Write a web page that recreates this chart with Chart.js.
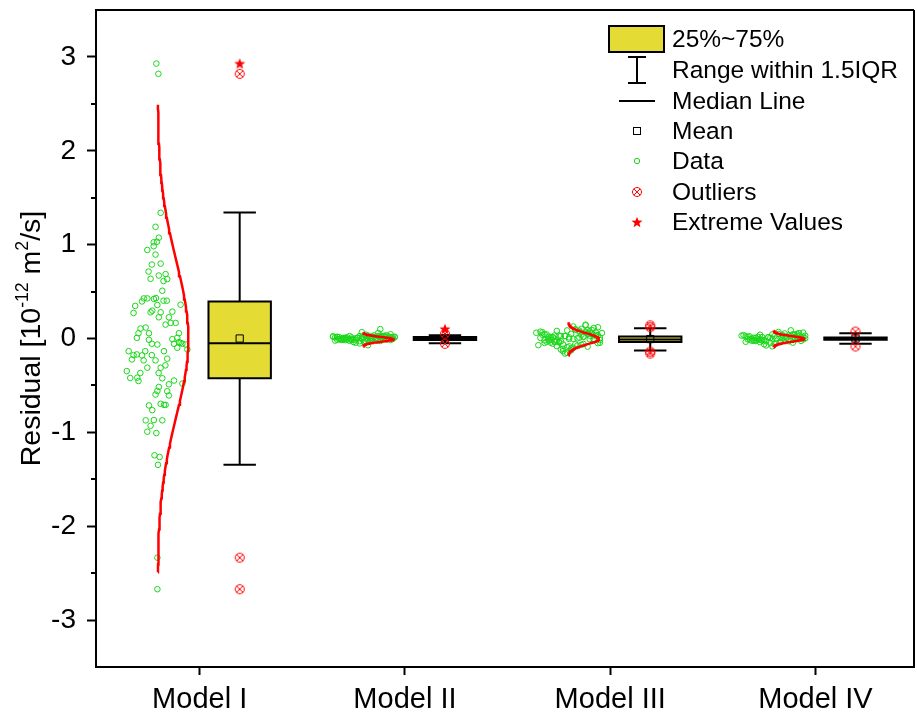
<!DOCTYPE html>
<html>
<head>
<meta charset="utf-8">
<script src="https://cdn.jsdelivr.net/npm/chart.js@4.4.1/dist/chart.umd.min.js"></script>
<style>
  html, body { margin: 0; padding: 0; background: #ffffff; }
  #wrap { width: 917px; height: 721px; }
</style>
</head>
<body>
<div id="wrap"><canvas id="chart" width="917" height="721"></canvas></div>
<script>
// ---- data ----
const categories = ['Model I', 'Model II', 'Model III', 'Model IV'];
const yTicks = [-3, -2, -1, 0, 1, 2, 3];

// residuals per model, with horizontal scatter offsets for the point cloud
const m1Values = [2.929,2.820,1.339,1.190,1.074,1.031,1.025,0.983,0.943,0.894,
  0.798,0.788,0.713,0.636,0.671,0.686,0.633,0.612,0.509,0.427,
  0.427,0.395,0.421,0.431,0.357,0.403,0.403,0.360,0.347,0.272,
  0.279,0.297,0.279,0.286,0.226,0.226,0.106,0.117,0.056,0.056,
  0.148,0.166,0.166,0.056,0.007,-0.014,-0.007,0.007,-0.056,-0.064,
  -0.056,-0.039,-0.046,-0.099,-0.056,-0.064,-0.117,-0.135,-0.177,-0.223,
  -0.170,-0.180,-0.135,-0.233,-0.177,-0.233,-0.135,-0.215,-0.286,-0.311,
  -0.347,-0.421,-0.417,-0.453,-0.368,-0.368,-0.311,-0.424,-0.448,-0.488,
  -0.480,-0.516,-0.559,-0.597,-0.562,-0.607,-0.713,-0.763,-0.696,-0.707,
  -0.707,-0.872,-0.869,-0.872,-0.930,-0.993,-1.007,-1.244,-1.262,-1.346,
  -2.335,-2.671];
const m1Jitter = [-0.211,-0.201,-0.190,-0.215,-0.199,-0.208,-0.224,-0.224,-0.255,-0.215,
  -0.190,-0.233,-0.249,-0.239,-0.199,-0.166,-0.158,-0.176,-0.182,-0.272,
  -0.255,-0.281,-0.223,-0.213,-0.206,-0.176,-0.160,-0.093,-0.314,-0.322,
  -0.239,-0.231,-0.190,-0.133,-0.199,-0.150,-0.288,-0.263,-0.298,-0.247,
  -0.166,-0.141,-0.117,-0.101,-0.306,-0.247,-0.133,-0.109,-0.233,-0.206,
  -0.125,-0.101,-0.093,-0.109,-0.084,-0.068,-0.060,-0.346,-0.322,-0.330,
  -0.306,-0.281,-0.265,-0.273,-0.233,-0.215,-0.174,-0.158,-0.167,-0.255,
  -0.355,-0.338,-0.304,-0.298,-0.289,-0.200,-0.190,-0.182,-0.125,-0.150,
  -0.084,-0.199,-0.206,-0.215,-0.158,-0.150,-0.247,-0.231,-0.190,-0.174,
  -0.166,-0.263,-0.223,-0.182,-0.239,-0.255,-0.211,-0.220,-0.195,-0.203,
  -0.206,-0.206];

const m2Values = [0.004,-0.012,0.018,-0.025,0.009,0.031,-0.006,0.014,-0.019,0.002,
  0.022,-0.031,0.011,-0.003,0.027,-0.015,0.006,0.035,-0.009,0.016,
  -0.022,0.001,0.012,-0.038,0.024,-0.007,0.008,0.029,-0.017,0.003,
  0.019,-0.011,0.041,-0.027,0.013,-0.002,0.021,-0.014,0.007,-0.045,
  0.026,0.010,-0.020,0.015,-0.005,0.033,-0.029,0.005,0.017,-0.010,
  0.000,0.023,-0.016,0.058,-0.034,0.011,-0.004,0.020,-0.024,0.008,
  0.030,-0.013,0.014,-0.001,0.046,-0.019,0.006,-0.052,0.025,-0.008,
  0.100,0.013,-0.026,0.002,0.018,-0.012,0.067,0.009,-0.071,0.016];
const m2Jitter = [-0.21,-0.33,-0.12,-0.27,-0.08,-0.18,-0.30,-0.15,-0.24,-0.06,
  -0.35,-0.19,-0.26,-0.11,-0.22,-0.31,-0.14,-0.09,-0.28,-0.20,
  -0.34,-0.17,-0.07,-0.25,-0.13,-0.32,-0.23,-0.10,-0.29,-0.16,
  -0.05,-0.26,-0.19,-0.12,-0.34,-0.21,-0.08,-0.30,-0.14,-0.24,
  -0.27,-0.11,-0.18,-0.33,-0.06,-0.15,-0.22,-0.29,-0.10,-0.25,
  -0.31,-0.16,-0.07,-0.13,-0.20,-0.28,-0.09,-0.35,-0.17,-0.23,
  -0.12,-0.26,-0.32,-0.19,-0.07,-0.14,-0.30,-0.22,-0.11,-0.27,
  -0.12,-0.05,-0.16,-0.24,-0.33,-0.09,-0.21,-0.29,-0.18,-0.06];

const m3Values = [0.012,-0.034,0.057,-0.081,0.023,0.094,-0.015,0.041,-0.062,0.005,
  0.073,-0.098,0.031,-0.007,0.086,-0.047,0.018,0.112,-0.029,0.049,
  -0.071,0.002,0.035,-0.118,0.067,-0.022,0.027,0.091,-0.055,0.009,
  0.059,-0.038,0.128,-0.087,0.039,-0.004,0.064,-0.044,0.021,-0.135,
  0.081,0.030,-0.061,0.046,-0.017,0.103,-0.093,0.014,0.052,-0.031,
  -0.001,0.070,-0.050,0.147,-0.106,0.033,-0.012,0.061,-0.075,0.025,
  0.089,-0.040,0.043,-0.003,0.120,-0.058,0.017,-0.152,0.077,-0.025,
  0.006,-0.067,0.038,-0.109,0.098,-0.019,0.054,-0.084,0.011,0.140,
  -0.045,0.028,-0.126,0.066,-0.009,0.083,-0.036,0.047,-0.160,0.019];
const m3Jitter = [-0.20,-0.31,-0.11,-0.26,-0.07,-0.17,-0.29,-0.14,-0.23,-0.05,
  -0.34,-0.18,-0.25,-0.10,-0.21,-0.32,-0.13,-0.08,-0.27,-0.19,
  -0.35,-0.16,-0.06,-0.24,-0.12,-0.30,-0.22,-0.09,-0.28,-0.15,
  -0.04,-0.25,-0.18,-0.11,-0.33,-0.20,-0.07,-0.29,-0.13,-0.23,
  -0.26,-0.10,-0.17,-0.32,-0.05,-0.14,-0.21,-0.28,-0.09,-0.24,
  -0.30,-0.15,-0.06,-0.12,-0.19,-0.27,-0.08,-0.36,-0.16,-0.22,
  -0.11,-0.25,-0.31,-0.18,-0.06,-0.13,-0.29,-0.21,-0.10,-0.26,
  -0.34,-0.14,-0.07,-0.23,-0.17,-0.32,-0.09,-0.20,-0.28,-0.12,
  -0.05,-0.24,-0.19,-0.33,-0.08,-0.15,-0.27,-0.11,-0.22,-0.30];

const m4Values = [0.006,-0.017,0.028,-0.039,0.011,0.047,-0.008,0.021,-0.030,0.002,
  0.036,-0.052,0.015,-0.004,0.043,-0.024,0.009,0.058,-0.013,0.025,
  -0.035,0.001,0.018,-0.061,0.033,-0.011,0.013,0.050,-0.027,0.004,
  0.030,-0.019,0.069,-0.044,0.020,-0.002,0.032,-0.022,0.010,-0.074,
  0.040,0.015,-0.031,0.023,-0.009,0.054,-0.048,0.007,0.026,-0.016,
  0.000,0.035,-0.025,0.087,-0.057,0.017,-0.006,0.031,-0.038,0.012,
  0.045,-0.020,0.022,-0.001,0.063,-0.029,0.008,-0.083,0.039,-0.012];
const m4Jitter = [-0.22,-0.30,-0.12,-0.27,-0.07,-0.18,-0.33,-0.15,-0.24,-0.05,
  -0.35,-0.19,-0.26,-0.10,-0.21,-0.31,-0.14,-0.08,-0.28,-0.20,
  -0.34,-0.16,-0.06,-0.25,-0.13,-0.32,-0.23,-0.09,-0.29,-0.17,
  -0.05,-0.26,-0.18,-0.11,-0.33,-0.21,-0.08,-0.30,-0.14,-0.24,
  -0.27,-0.10,-0.17,-0.34,-0.06,-0.15,-0.22,-0.29,-0.09,-0.25,
  -0.31,-0.16,-0.07,-0.12,-0.20,-0.28,-0.09,-0.36,-0.17,-0.23,
  -0.11,-0.26,-0.32,-0.19,-0.06,-0.13,-0.30,-0.21,-0.10,-0.27];

// box statistics
const q1 = [-0.424, -0.016, -0.038, -0.014];
const q3 = [0.395, 0.016, 0.020, 0.010];
const medians = [-0.050, 0.000, -0.010, -0.002];
const means = [0.000, 0.002, -0.006, 0.000];
const whiskerLow = [-1.346, -0.050, -0.127, -0.056];
const whiskerHigh = [1.343, 0.035, 0.110, 0.057];
const outliers = [[2.82, -2.335, -2.671], [0.050, -0.056], [0.140, 0.120, -0.140, -0.160], [0.074, -0.085]];
const extremes = [[2.93], [0.103], [], []];

// normal fit to each model's residuals
const fitMean = [0.000, -0.009, -0.004, -0.004];
const fitSD = [0.83, 0.025, 0.059, 0.0295];

const modelValues = [m1Values, m2Values, m3Values, m4Values];
const modelJitter = [m1Jitter, m2Jitter, m3Jitter, m4Jitter];

// ---- styling / geometry (category units on the x scale) ----
const FONT = '"Liberation Sans", Arial, sans-serif';
const KEY_FS = 24.5;
const XTICK_FS = 29;
const YTICK_FS = 28;
const TITLE_FS = 28.5;
const GREEN = 'rgb(25,215,25)';
const RED = '#ff0000';
const YELLOW = '#e4dc34';
const BOX_OFFSET = 0.195;
const BOX_HALF = 0.152;
const CAP_HALF = 0.079;
const CURVE_BASE = -0.205;
const CURVE_AMP = 0.15;

Chart.defaults.font.family = FONT;
Chart.defaults.color = '#000';

// marker sprites
function outlierSprite(r) {
  const s = Math.ceil(2 * r + 3);
  const c = document.createElement('canvas');
  c.width = s; c.height = s;
  const g = c.getContext('2d');
  const m = s / 2;
  g.strokeStyle = RED; g.lineWidth = 1;
  g.beginPath(); g.arc(m, m, r, 0, Math.PI * 2); g.stroke();
  const d = r * 0.72;
  g.beginPath();
  g.moveTo(m - d, m - d); g.lineTo(m + d, m + d);
  g.moveTo(m + d, m - d); g.lineTo(m - d, m + d);
  g.stroke();
  return c;
}
function starSprite(R) {
  const s = Math.ceil(2 * R + 2);
  const c = document.createElement('canvas');
  c.width = s; c.height = s;
  const g = c.getContext('2d');
  const m = s / 2, r = R * 0.42;
  g.fillStyle = RED;
  g.beginPath();
  for (let k = 0; k < 10; k++) {
    const a = -Math.PI / 2 + k * Math.PI / 5;
    const rad = k % 2 === 0 ? R : r;
    const px = m + rad * Math.cos(a), py = m + rad * Math.sin(a) + 0.5;
    if (k === 0) g.moveTo(px, py); else g.lineTo(px, py);
  }
  g.closePath(); g.fill();
  return c;
}
const OUTLIER_IMG = outlierSprite(4.5);
const STAR_IMG = starSprite(5.8);

function segment(label, pts, width, order) {
  return {
    type: 'scatter', label, data: pts, showLine: true,
    borderColor: '#000', borderWidth: width, pointRadius: 0,
    borderCapStyle: 'butt', borderJoinStyle: 'miter', tension: 0, order
  };
}

const datasets = [];

// interquartile boxes (fill)
datasets.push({
  type: 'bar', label: '25%~75%',
  data: categories.map((c, i) => ({ x: i + BOX_OFFSET, y: [q1[i], q3[i]] })),
  backgroundColor: YELLOW, borderWidth: 0,
  barPercentage: 2 * BOX_HALF, categoryPercentage: 1, order: 30
});

categories.forEach((name, i) => {
  const cx = i + BOX_OFFSET;
  // point cloud
  datasets.push({
    type: 'scatter', label: 'Data',
    data: modelValues[i].map((v, k) => ({ x: i + modelJitter[i][k], y: v })),
    pointStyle: 'circle', pointRadius: 2.8, borderWidth: 1,
    borderColor: GREEN, backgroundColor: 'rgba(0,0,0,0)', order: 50
  });
  // fitted normal curve, laid sideways next to the cloud
  const curve = [];
  const m = fitMean[i], sd = fitSD[i];
  for (let k = 0; k <= 120; k++) {
    const y = m - 3 * sd + (6 * sd) * k / 120;
    const z = (y - m) / sd;
    curve.push({ x: i + CURVE_BASE + CURVE_AMP * Math.exp(-0.5 * z * z), y });
  }
  datasets.push({
    type: 'scatter', label: 'Normal', data: curve, showLine: true,
    borderColor: RED, borderWidth: 2.5, pointRadius: 0, tension: 0, order: 40
  });
  // whisker stem, caps, box outline, median
  datasets.push(segment('Whisker', [{ x: cx, y: whiskerLow[i] }, { x: cx, y: whiskerHigh[i] }], 2, 35));
  datasets.push(segment('Cap', [{ x: cx - CAP_HALF, y: whiskerHigh[i] }, { x: cx + CAP_HALF, y: whiskerHigh[i] }], 2, 20));
  datasets.push(segment('Cap', [{ x: cx - CAP_HALF, y: whiskerLow[i] }, { x: cx + CAP_HALF, y: whiskerLow[i] }], 2, 20));
  datasets.push(segment('Box', [
    { x: cx, y: q1[i] }, { x: cx + BOX_HALF, y: q1[i] }, { x: cx + BOX_HALF, y: q3[i] },
    { x: cx - BOX_HALF, y: q3[i] }, { x: cx - BOX_HALF, y: q1[i] }, { x: cx, y: q1[i] }
  ], 2, 19));
  datasets.push(segment('Median Line', [{ x: cx - BOX_HALF, y: medians[i] }, { x: cx + BOX_HALF, y: medians[i] }], 2, 18));
});

// means, outliers and extremes
datasets.push({
  type: 'scatter', label: 'Mean',
  data: categories.map((c, i) => ({ x: i + BOX_OFFSET, y: means[i] })),
  pointStyle: 'rect', pointRadius: 5.1, borderWidth: 1, borderColor: '#000',
  backgroundColor: 'rgba(0,0,0,0)', order: 10
});
datasets.push({
  type: 'scatter', label: 'Outliers',
  data: outliers.flatMap((list, i) => list.map(v => ({ x: i + BOX_OFFSET, y: v }))),
  pointStyle: OUTLIER_IMG, pointRadius: 5, order: 5
});
datasets.push({
  type: 'scatter', label: 'Extreme Values',
  data: extremes.flatMap((list, i) => list.map(v => ({ x: i + BOX_OFFSET, y: v }))),
  pointStyle: STAR_IMG, pointRadius: 6, order: 4
});

// frame, minor ticks, axis title and key
const decorations = {
  id: 'decorations',
  afterDraw(chart) {
    const ctx = chart.ctx;
    const ca = chart.chartArea;
    const ys = chart.scales.y;
    ctx.save();
    ctx.strokeStyle = '#000';
    ctx.lineWidth = 2;
    ctx.beginPath();
    ctx.moveTo(ca.left, ca.top); ctx.lineTo(ca.right, ca.top);
    ctx.moveTo(ca.right, ca.top); ctx.lineTo(ca.right, ca.bottom);
    ctx.stroke();

    // minor ticks on the value axis
    ctx.beginPath();
    for (let v = -2.5; v <= 2.5; v += 1) {
      const py = Math.round(ys.getPixelForValue(v));
      ctx.moveTo(ca.left - 5, py); ctx.lineTo(ca.left, py);
    }
    ctx.stroke();

    // rotated axis title with superscripts
    const parts = [
      { t: 'Residual [10', sup: false },
      { t: '-12', sup: true },
      { t: ' m', sup: false },
      { t: '2', sup: true },
      { t: '/s]', sup: false }
    ];
    const big = TITLE_FS + 'px ' + FONT;
    const small = (TITLE_FS * 0.62) + 'px ' + FONT;
    let total = 0;
    parts.forEach(p => { ctx.font = p.sup ? small : big; p.w = ctx.measureText(p.t).width; total += p.w; });
    ctx.translate(30, (ca.top + ca.bottom) / 2);
    ctx.rotate(-Math.PI / 2);
    ctx.fillStyle = '#000';
    ctx.textBaseline = 'alphabetic';
    let x = -total / 2;
    parts.forEach(p => {
      ctx.font = p.sup ? small : big;
      ctx.fillText(p.t, x, p.sup ? 10 - TITLE_FS * 0.42 : 10);
      x += p.w;
    });
    ctx.restore();

    // key
    ctx.save();
    const sx = 637, tx = 672;
    const rows = [39, 70, 101, 131, 161, 192, 222];
    ctx.fillStyle = YELLOW;
    ctx.fillRect(609, 26, 55, 26);
    ctx.strokeStyle = '#000';
    ctx.lineWidth = 2;
    ctx.strokeRect(609, 26, 55, 26);
    ctx.beginPath();
    ctx.moveTo(sx, 57); ctx.lineTo(sx, 83);
    ctx.moveTo(sx - 9, 57); ctx.lineTo(sx + 9, 57);
    ctx.moveTo(sx - 9, 83); ctx.lineTo(sx + 9, 83);
    ctx.moveTo(619, rows[2]); ctx.lineTo(655, rows[2]);
    ctx.stroke();
    ctx.lineWidth = 1;
    ctx.strokeRect(sx - 3.5, rows[3] - 3.5, 7, 7);
    ctx.strokeStyle = GREEN;
    ctx.beginPath(); ctx.arc(sx, rows[4], 2.7, 0, Math.PI * 2); ctx.stroke();
    ctx.drawImage(OUTLIER_IMG, sx - OUTLIER_IMG.width / 2, rows[5] - OUTLIER_IMG.height / 2);
    ctx.drawImage(STAR_IMG, sx - STAR_IMG.width / 2, rows[6] - STAR_IMG.height / 2);
    const labels = ['25%~75%', 'Range within 1.5IQR', 'Median Line', 'Mean', 'Data', 'Outliers', 'Extreme Values'];
    ctx.fillStyle = '#000';
    ctx.font = KEY_FS + 'px ' + FONT;
    ctx.textBaseline = 'middle';
    labels.forEach((l, k) => ctx.fillText(l, tx, rows[k] + 1));
    ctx.restore();
  }
};

new Chart(document.getElementById('chart'), {
  type: 'scatter',
  data: { datasets },
  options: {
    responsive: false,
    animation: false,
    events: [],
    layout: { autoPadding: false, padding: { top: 10, right: 3, left: 0, bottom: 0 } },
    plugins: { legend: { display: false }, tooltip: { enabled: false } },
    scales: {
      x: {
        type: 'linear', min: -0.505, max: 3.48, offset: false,
        afterBuildTicks: s => { s.ticks = categories.map((c, i) => ({ value: i })); },
        afterFit: s => { s.height = 54; s.paddingLeft = 0; s.paddingRight = 0; },
        ticks: { callback: v => categories[v], color: '#000', font: { size: XTICK_FS }, padding: 8, maxRotation: 0, autoSkip: false },
        grid: { display: true, offset: false, drawOnChartArea: false, drawTicks: true, tickLength: 8, tickWidth: 2, tickColor: '#000' },
        border: { display: true, color: '#000', width: 2 }
      },
      y: {
        type: 'linear', min: -3.5, max: 3.5,
        afterBuildTicks: s => { s.ticks = yTicks.map(v => ({ value: v })); },
        afterFit: s => { s.width = 96; s.paddingTop = 0; s.paddingBottom = 0; },
        ticks: { callback: v => String(v), color: '#000', font: { size: YTICK_FS }, padding: 11, autoSkip: false },
        grid: { display: true, drawOnChartArea: false, drawTicks: true, tickLength: 9, tickWidth: 2, tickColor: '#000' },
        border: { display: true, color: '#000', width: 2 }
      }
    }
  },
  plugins: [decorations]
});
</script>
</body>
</html>
